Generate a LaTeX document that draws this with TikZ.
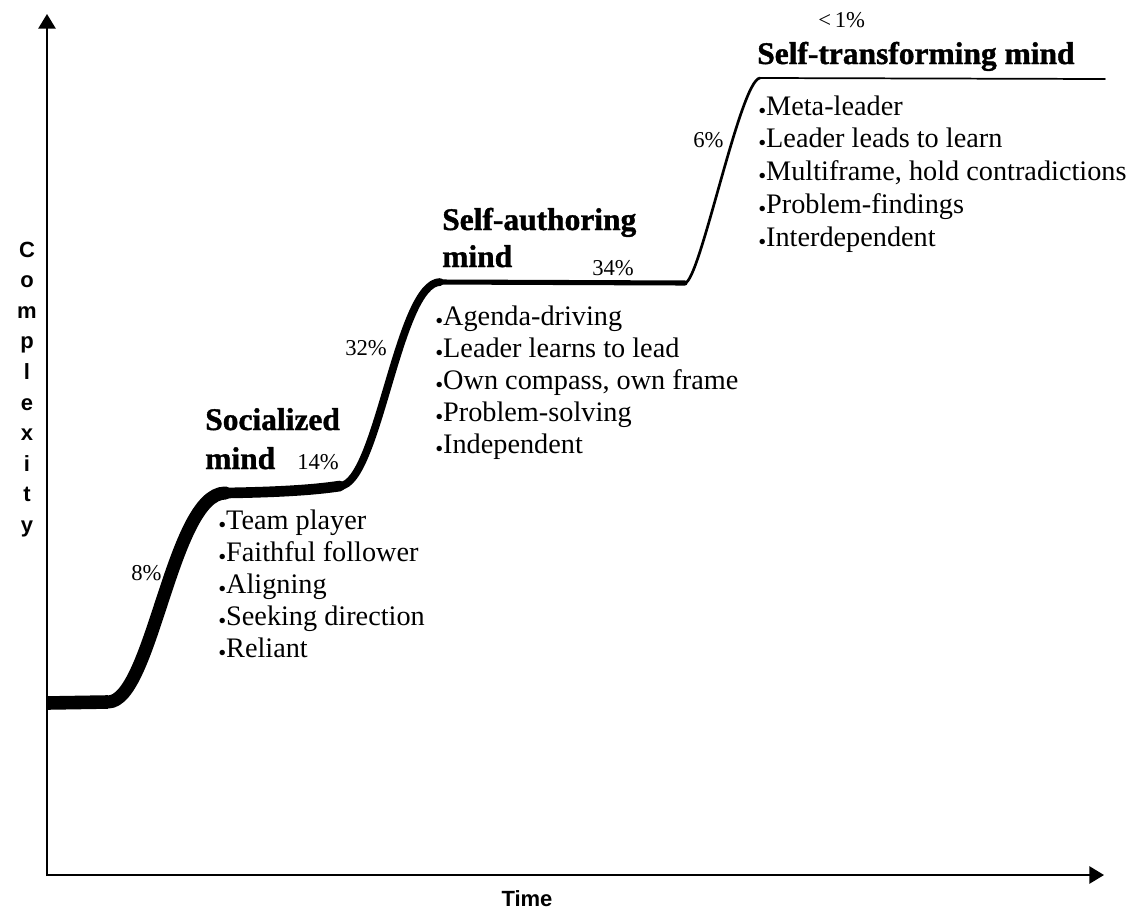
\documentclass[tikz,border=0pt]{standalone}
\usepackage{fontspec}
\setmainfont{Liberation Serif}
\newfontfamily\axisfont{Liberation Sans}
\newfontfamily\headfont{Liberation Serif Bold}[FakeBold=1.2]
\usepackage{graphicx}
\usetikzlibrary{arrows.meta}
\newcommand{\bul}{\raisebox{-0.12em}{\scalebox{0.8}{\textbullet}}}
\begin{document}
\begin{tikzpicture}[x=0.75pt,y=-0.75pt,
  item/.style={anchor=base west, inner sep=0pt, font=\fontsize{21.2}{25}\selectfont},
  head/.style={anchor=base west, inner sep=0pt, font=\fontsize{23.6}{28}\selectfont\headfont},
  pct/.style={anchor=base west, inner sep=0pt, font=\fontsize{17}{20}\selectfont},
  axlab/.style={anchor=base, inner sep=0pt, font=\fontsize{16.5}{19}\selectfont\axisfont\bfseries},
  axisline/.style={line width=1.3pt, -{Triangle[length=11pt,width=13pt]}},
  curve/.style={line cap=round, line join=round}]
\useasboundingbox (0,0) rectangle (1147,911);
% axes
\coordinate (ybot) at (47,876);
\coordinate (ytop) at (47,14);
\coordinate (xbeg) at (46,875);
\coordinate (xend) at (1104,875);
\draw[axisline] (ybot) -- (ytop);
\draw[axisline] (xbeg) -- (xend);
\node[axlab] (time) at (527,906) {Time};
\foreach \l [count=\k from 0] in {C,o,m,p,l,e,x,i,t,y}
  \node[axlab] (cx\k) at (27,257+30.6*\k) {\l};
% staircase curve, tapering
\coordinate (s0) at (47,703);
\coordinate (s1) at (108,702);
\coordinate (s2) at (225,493);
\coordinate (s3) at (340,486);
\coordinate (s4) at (440,282);
\coordinate (s5) at (685,283);
\coordinate (s6) at (760,78);
\coordinate (s7) at (1105,79);
\draw[line width=10.2pt] (s0) -- (s1);
\draw[curve,line width=9.8pt] (s1) .. controls (152,702) and (172,494) .. (s2);
\draw[curve,line width=8pt] (s2) .. controls (290,492) and (320,489) .. (s3);
\draw[curve,line width=5.8pt] (s3) .. controls (378,484) and (398,283) .. (s4);
\draw[curve,line width=3.8pt] (s4) -- (s5);
\draw[curve,line width=2pt] (s5) .. controls (700,282) and (740,80) .. (s6);
\draw[curve,line width=1.3pt] (s6) -- (s7);
% percentages
\node[pct] (p8) at (131,580) {8\%};
\node[pct] (p14) at (297,469) {14\%};
\node[pct] (p32) at (345,355) {32\%};
\node[pct] (p34) at (592,275) {34\%};
\node[pct] (p6) at (693,147) {6\%};
\node[pct] (p1) at (818,27) {<\,1\%};
% headings
\node[head] (h1a) at (205,430) {Socialized};
\node[head] (h1b) at (205,469) {mind};
\node[head] (h2a) at (442,230) {Self-authoring};
\node[head] (h2b) at (442,267) {mind};
\node[head] (h3) at (757,64) {Self-transforming mind};
% lists
\node[item] (a1) at (218,529) {\bul Team player};
\node[item] (a2) at (218,561) {\bul Faithful follower};
\node[item] (a3) at (218,593) {\bul Aligning};
\node[item] (a4) at (218,625) {\bul Seeking direction};
\node[item] (a5) at (218,657) {\bul Reliant};
\node[item] (b1) at (435,325) {\bul Agenda-driving};
\node[item] (b2) at (435,357) {\bul Leader learns to lead};
\node[item] (b3) at (435,389) {\bul Own compass, own frame};
\node[item] (b4) at (435,421) {\bul Problem-solving};
\node[item] (b5) at (435,453) {\bul Independent};
\node[item] (c1) at (758,115) {\bul Meta-leader};
\node[item] (c2) at (758,147) {\bul Leader leads to learn};
\node[item] (c3) at (758,180) {\bul Multiframe, hold contradictions};
\node[item] (c4) at (758,213) {\bul Problem-findings};
\node[item] (c5) at (758,246) {\bul Interdependent};
\end{tikzpicture}
\end{document}
